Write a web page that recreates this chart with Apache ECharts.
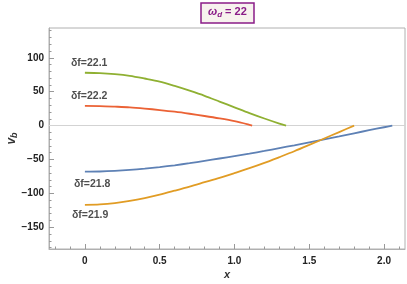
<!DOCTYPE html>
<html>
<head>
<meta charset="utf-8">
<script src="https://cdn.jsdelivr.net/npm/echarts@6/dist/echarts.min.js"></script>
<style>html,body{margin:0;padding:0;background:#fff;}#c{width:407px;height:284px;}</style>
</head>
<body>
<div id="c"></div>
<script>
// ---- data ----
const xTickValues = [0, 0.5, 1, 1.5, 2];
const xTickLabels = ['0', '0.5', '1.0', '1.5', '2.0'];
const yTickValues = [-150, -100, -50, 0, 50, 100];
const yTickLabels = ['\u2212150', '\u2212100', '\u221250', '0', '50', '100'];

const seriesNames = ['δf=21.8', 'δf=21.9', 'δf=22.1', 'δf=22.2'];

const x218 = [0, 0.1, 0.2, 0.3, 0.4, 0.5, 0.6, 0.7, 0.8, 0.9, 1.0, 1.1, 1.2, 1.3, 1.4, 1.5, 1.6, 1.7, 1.8, 1.9, 2.0, 2.055];
const y218 = [-68, -67.7, -66.8, -65.4, -63.5, -61.2, -58.5, -55.4, -52, -48.5, -45, -41.4, -37.4, -33.2, -29, -24.6, -20.2, -15.8, -11.3, -6.8, -2.4, 0];

const x219 = [0, 0.1, 0.2, 0.3, 0.4, 0.5, 0.6, 0.7, 0.8, 0.9, 1.0, 1.1, 1.2, 1.3, 1.4, 1.5, 1.6, 1.7, 1.8];
const y219 = [-117, -116.3, -114.3, -111, -106.8, -101.8, -96, -90, -83.5, -77, -70, -62.8, -55, -46.5, -37.8, -28.5, -19, -9.5, 0];

const x221 = [0, 0.1, 0.2, 0.3, 0.4, 0.5, 0.6, 0.7, 0.8, 0.9, 1.0, 1.1, 1.2, 1.3, 1.345];
const y221 = [78, 77.5, 76, 73.5, 69.5, 65, 58.5, 51.5, 44, 35.5, 27, 18.5, 10.5, 3, 0];

const x222 = [0, 0.1, 0.2, 0.3, 0.4, 0.5, 0.6, 0.7, 0.8, 0.9, 1.0, 1.1, 1.118];
const y222 = [29, 28.8, 28, 27, 25.2, 23, 20.5, 17.5, 14.2, 10.6, 6.5, 1.2, 0];

// label anchor positions (data coordinates)
const labelX = [-0.073, -0.087, -0.093, -0.093];
const labelY = [-86, -132, 92.5, 43.5];

const colors = ['#5E81B5', '#E19C24', '#8FB032', '#EB6235'];

// ---- build ----
const xMin = -0.24, xMax = 2.14, yMin = -182, yMax = 144;
const xMinor = []; for (let i = -2; i <= 21; i++) xMinor.push(+(i * 0.1).toFixed(2));
const yMinor = []; for (let v = -180; v <= 140; v += 10) yMinor.push(v);

function pairs(xs, ys) { return xs.map((x, i) => [x, ys[i]]); }
const xs = [x218, x219, x221, x222];
const ys = [y218, y219, y221, y222];

const axisColor = '#b0b0b0';
const labelFont = { fontFamily: 'Liberation Sans', fontSize: 10, fontWeight: 'bold', color: '#222' };

function lookup(vals, labs, v) {
  for (let i = 0; i < vals.length; i++) if (Math.abs(vals[i] - v) < 1e-9) return labs[i];
  return '';
}

const series = xs.map((x, k) => ({
  type: 'line',
  name: seriesNames[k],
  data: pairs(x, ys[k]),
  xAxisIndex: 0, yAxisIndex: 0,
  smooth: 0.3,
  showSymbol: false,
  lineStyle: { color: colors[k], width: 1.8 },
  itemStyle: { color: colors[k] },
  z: 3,
  silent: true,
  markLine: k === 0 ? {
    silent: true, symbol: 'none', label: { show: false },
    lineStyle: { color: '#d3d3d3', width: 1, type: 'solid' },
    data: [{ yAxis: 0 }], z: 1
  } : undefined
}));

series.push({
  type: 'scatter',
  xAxisIndex: 0, yAxisIndex: 0,
  symbolSize: 0,
  silent: true,
  data: seriesNames.map((n, k) => ({ value: [labelX[k], labelY[k]], name: n })),
  label: {
    show: true, position: 'right', distance: 0,
    formatter: p => p.name,
    fontFamily: 'Liberation Sans', fontSize: 10.5, fontWeight: 'bold', color: '#222'
  }
});

const chart = echarts.init(document.getElementById('c'), null, { renderer: 'canvas' });
chart.setOption({
  animation: false,
  backgroundColor: '#fff',
  title: {
    left: 201, top: 1,
    text: '{w|ω}{d|d}{e| = 22}',
    padding: [4, 7, 4, 7],
    backgroundColor: '#f7f2ee',
    borderColor: '#8a1c88',
    borderWidth: 1.5,
    textStyle: {
      rich: {
        w: { fontFamily: 'Liberation Sans', fontSize: 11, fontWeight: 'bold', fontStyle: 'italic', color: '#8a1c88' },
        d: { fontFamily: 'Liberation Sans', fontSize: 8, fontWeight: 'bold', fontStyle: 'italic', color: '#8a1c88', padding: [6, 0, 0, 0] },
        e: { fontFamily: 'Liberation Sans', fontSize: 11, fontWeight: 'bold', color: '#8a1c88' }
      }
    }
  },
  grid: { left: 49, right: 2, top: 28, bottom: 35, show: true, borderColor: axisColor, borderWidth: 1, containLabel: false, outerBoundsMode: 'none' },
  xAxis: [{
    type: 'value', min: xMin, max: xMax, position: 'bottom',
    name: 'x', nameLocation: 'middle', nameGap: 20, nameMoveOverlap: false,
    nameTextStyle: { fontFamily: 'Liberation Sans', fontSize: 11, fontStyle: 'italic', fontWeight: 'bold', color: '#333' },
    axisLine: { show: true, onZero: false, lineStyle: { color: axisColor } },
    axisTick: { show: true, inside: true, length: 5, lineStyle: { color: '#999' }, customValues: xTickValues },
    axisLabel: { show: true, margin: 7, customValues: xTickValues, formatter: v => lookup(xTickValues, xTickLabels, v), ...labelFont },
    splitLine: { show: false }
  }, {
    type: 'value', min: xMin, max: xMax, position: 'bottom',
    axisLine: { show: false, onZero: false },
    axisTick: { show: true, inside: true, length: 2.5, lineStyle: { color: '#999' }, customValues: xMinor },
    axisLabel: { show: false },
    splitLine: { show: false }
  }],
  yAxis: [{
    type: 'value', min: yMin, max: yMax, position: 'left',
    name: '{v|v}{b|b}', nameLocation: 'middle', nameGap: 30, nameRotate: 90, nameMoveOverlap: false,
    nameTextStyle: {
      rich: {
        v: { fontFamily: 'Liberation Sans', fontSize: 12, fontStyle: 'italic', fontWeight: 'bold', color: '#333' },
        b: { fontFamily: 'Liberation Sans', fontSize: 9, fontStyle: 'italic', fontWeight: 'bold', color: '#333', padding: [6, 0, 0, 0] }
      }
    },
    axisLine: { show: true, onZero: false, lineStyle: { color: axisColor } },
    axisTick: { show: true, inside: true, length: 5, lineStyle: { color: '#999' }, customValues: yTickValues },
    axisLabel: { show: true, margin: 5, customValues: yTickValues, formatter: v => lookup(yTickValues, yTickLabels, v), ...labelFont },
    splitLine: { show: false }
  }, {
    type: 'value', min: yMin, max: yMax, position: 'left',
    axisLine: { show: false, onZero: false },
    axisTick: { show: true, inside: true, length: 2.5, lineStyle: { color: '#999' }, customValues: yMinor },
    axisLabel: { show: false },
    splitLine: { show: false }
  }],
  series: series
});
</script>
</body>
</html>
